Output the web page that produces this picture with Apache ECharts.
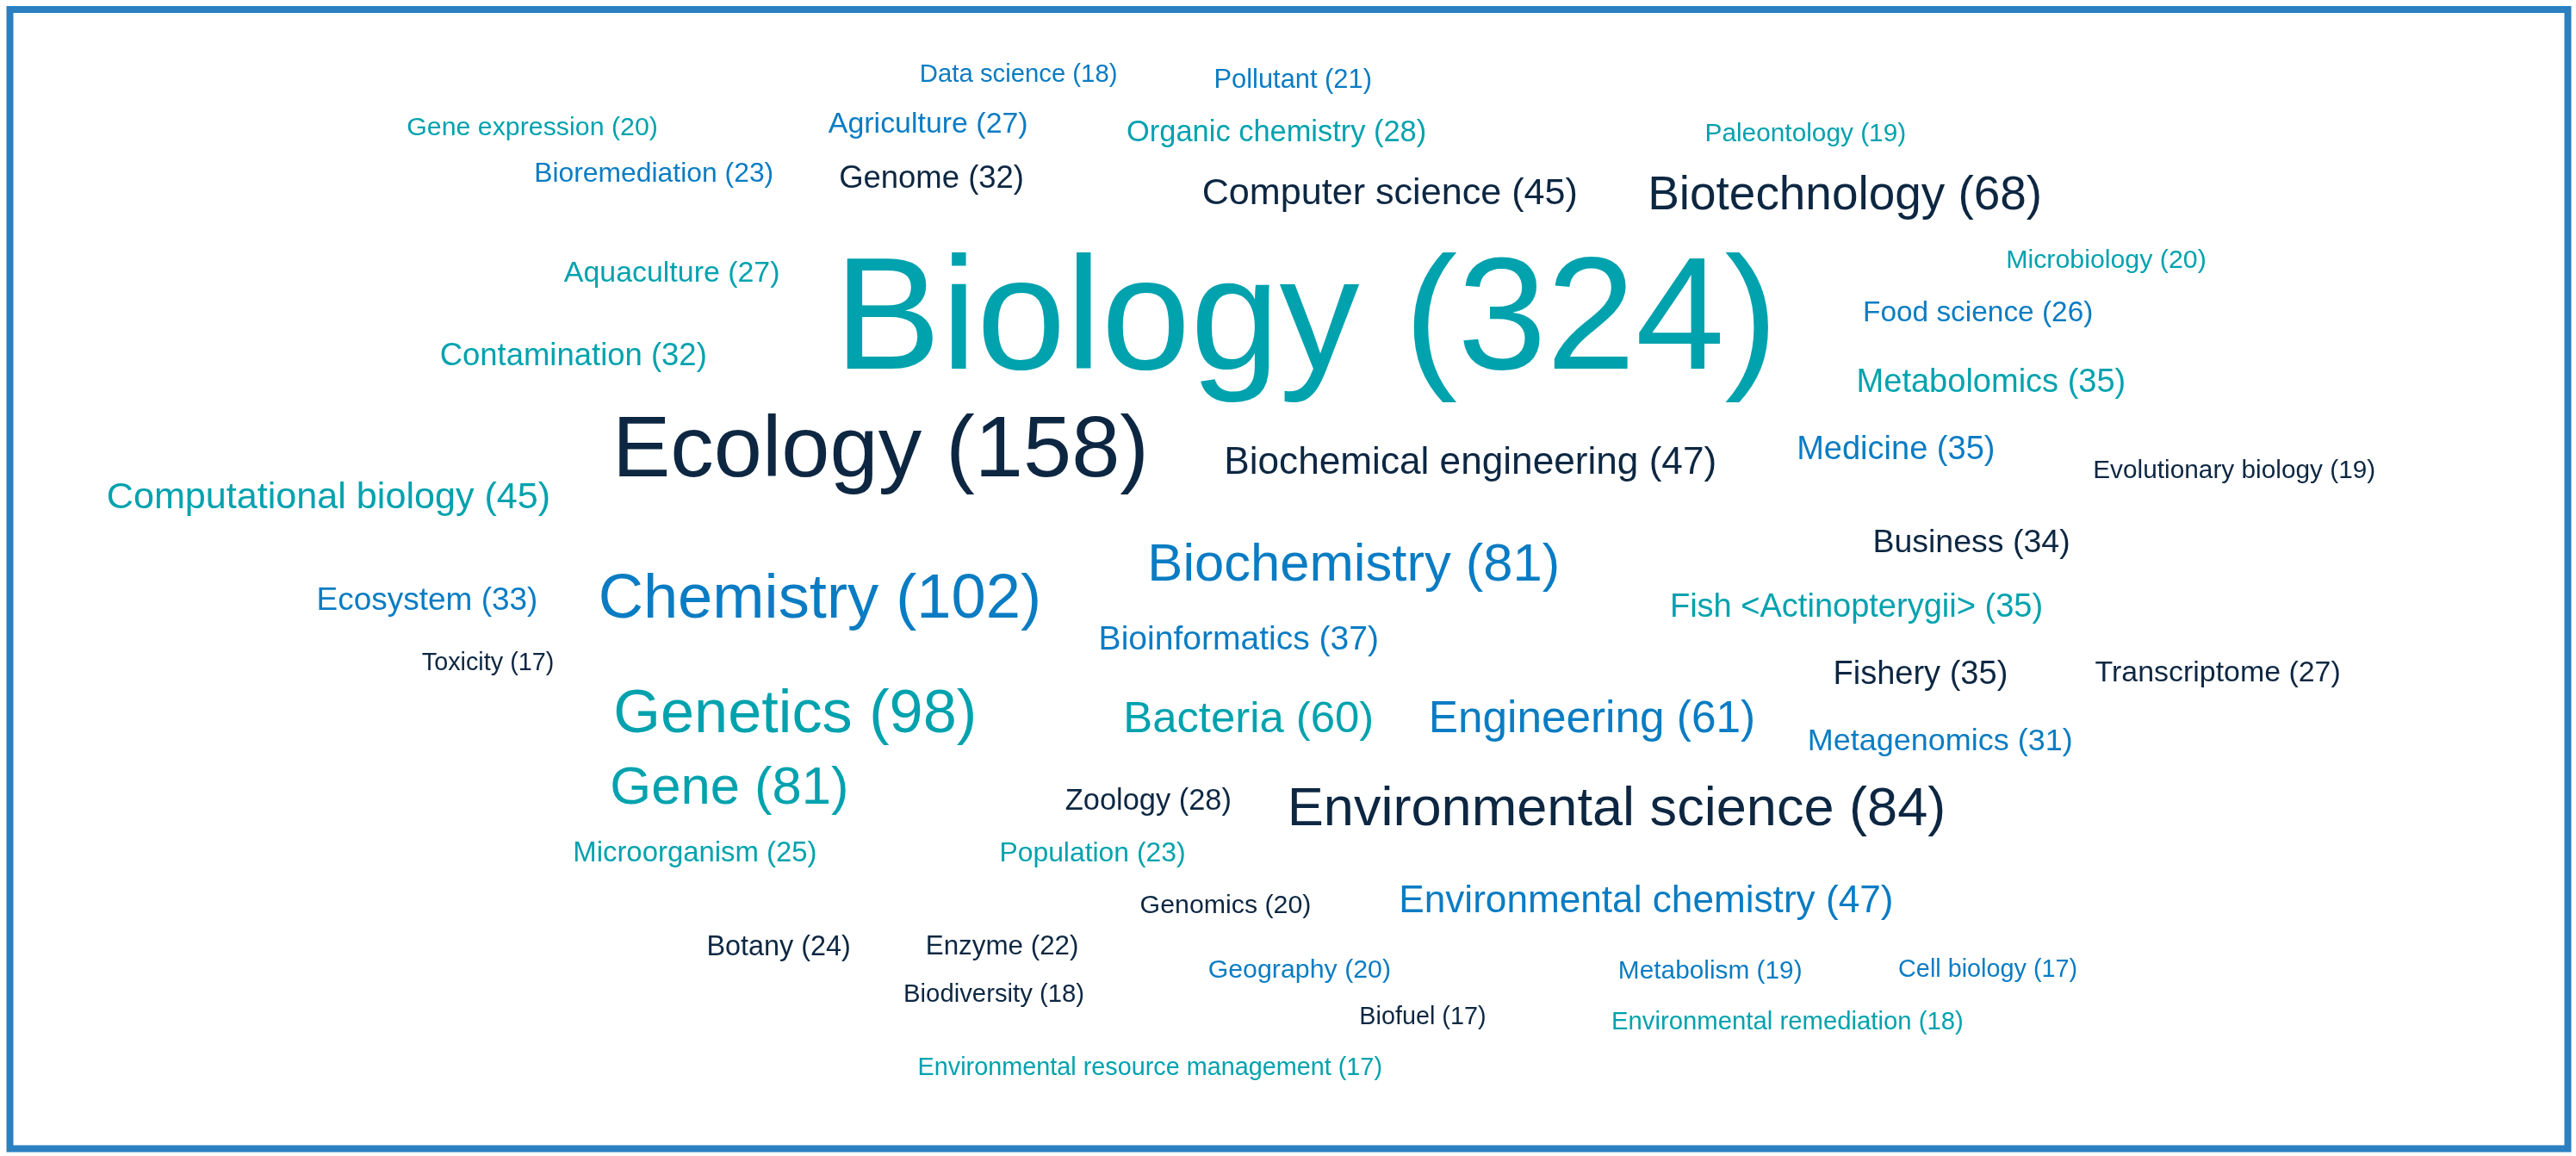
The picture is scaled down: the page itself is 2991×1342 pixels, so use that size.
<!DOCTYPE html>
<html>
<head>
<meta charset="utf-8">
<script src="https://cdn.jsdelivr.net/npm/echarts@6/dist/echarts.min.js"></script>
<style>
  html, body { margin: 0; padding: 0; background: #fff; }
  #main { width: 2991px; height: 1342px; }
</style>
</head>
<body>
<div id="main"></div>
<script>
// keyword cloud, counts in brackets
var words = [
  "Data science", "Pollutant", "Gene expression", "Agriculture", "Organic chemistry",
  "Paleontology", "Bioremediation", "Genome", "Computer science", "Biotechnology",
  "Microbiology", "Aquaculture", "Biology", "Food science", "Contamination",
  "Metabolomics", "Ecology", "Biochemical engineering", "Medicine", "Evolutionary biology",
  "Computational biology", "Business", "Biochemistry", "Ecosystem", "Chemistry",
  "Fish <Actinopterygii>", "Bioinformatics", "Toxicity", "Fishery", "Transcriptome",
  "Genetics", "Bacteria", "Engineering", "Metagenomics", "Gene",
  "Zoology", "Environmental science", "Microorganism", "Population", "Genomics",
  "Environmental chemistry", "Botany", "Enzyme", "Geography", "Metabolism",
  "Cell biology", "Biodiversity", "Biofuel", "Environmental remediation", "Environmental resource management"
];
var counts = [
  18, 21, 20, 27, 28,
  19, 23, 32, 45, 68,
  20, 27, 324, 26, 32,
  35, 158, 47, 35, 19,
  45, 34, 81, 33, 102,
  35, 37, 17, 35, 27,
  98, 60, 61, 31, 81,
  28, 84, 25, 23, 20,
  47, 24, 22, 20, 19,
  17, 18, 17, 18, 17
];
// word centres (layout units, 1568 x 704)
var posX = [
  620, 787, 324, 565, 777,
  1099, 398, 567, 846, 1123,
  1282, 409, 795, 1204, 349,
  1212, 536, 895, 1154, 1360,
  200, 1200, 824, 260, 499,
  1130, 754, 297, 1169, 1350,
  484, 760, 969, 1181, 444,
  699, 984, 423, 665, 746,
  1002, 474, 610, 791, 1041,
  1210, 605, 866, 1088, 700
];
var posY = [
  45, 48, 77, 75, 80,
  81, 105, 108, 117, 118,
  158, 166, 193, 190, 216,
  232, 273, 281, 273, 286,
  302, 330, 343, 365, 364,
  369, 389, 403, 410, 409,
  434, 437, 437, 451, 479,
  487, 492, 519, 519, 551,
  548, 576, 576, 590, 591,
  590, 605, 619, 622, 650
];
// 0 = navy, 1 = teal, 2 = blue
var colorGroup = [
  2, 2, 1, 2, 1,
  1, 2, 0, 0, 0,
  1, 1, 1, 2, 1,
  1, 0, 0, 2, 0,
  1, 0, 2, 2, 2,
  1, 2, 0, 0, 0,
  1, 1, 2, 2, 1,
  0, 0, 1, 1, 0,
  2, 0, 0, 2, 2,
  2, 0, 0, 1, 1
];
var palette = ["#0d2742", "#00a2ae", "#0a7cc3"];

function fontSizeOf(c) {
  return 20.1 + 0.512 * c;
}

var chart = echarts.init(document.getElementById("main"));

var data = [];
for (var i = 0; i < words.length; i++) {
  data.push({
    name: words[i],
    value: [posX[i], posY[i], counts[i]],
    label: {
      color: palette[colorGroup[i]],
      fontSize: fontSizeOf(counts[i])
    }
  });
}

chart.setOption({
  animation: false,
  backgroundColor: "#ffffff",
  grid: { left: 0, right: 0, top: 0, bottom: 0 },
  xAxis: { type: "value", min: 0, max: 1568, show: false },
  yAxis: { type: "value", min: 0, max: 704, inverse: true, show: false },
  graphic: [
    {
      type: "rect",
      shape: { x: 11.5, y: 11, width: 2970, height: 1322.5 },
      style: { fill: "none", stroke: "#2a80c1", lineWidth: 8 },
      silent: true
    }
  ],
  series: [
    {
      type: "scatter",
      symbolSize: 0,
      silent: true,
      itemStyle: { opacity: 1 },
      data: data,
      label: {
        show: true,
        position: "inside",
        align: "center",
        verticalAlign: "middle",
        fontFamily: "Liberation Sans",
        textBorderWidth: 0,
        opacity: 1,
        formatter: function (p) {
          return p.name + " (" + p.value[2] + ")";
        }
      },
      // push glyphs down a bit so the cap-height centre sits on the point
      labelLayout: function (p) {
        return { dy: fontSizeOf(counts[p.dataIndex]) * 0.05, hideOverlap: false };
      }
    }
  ]
});
</script>
</body>
</html>
